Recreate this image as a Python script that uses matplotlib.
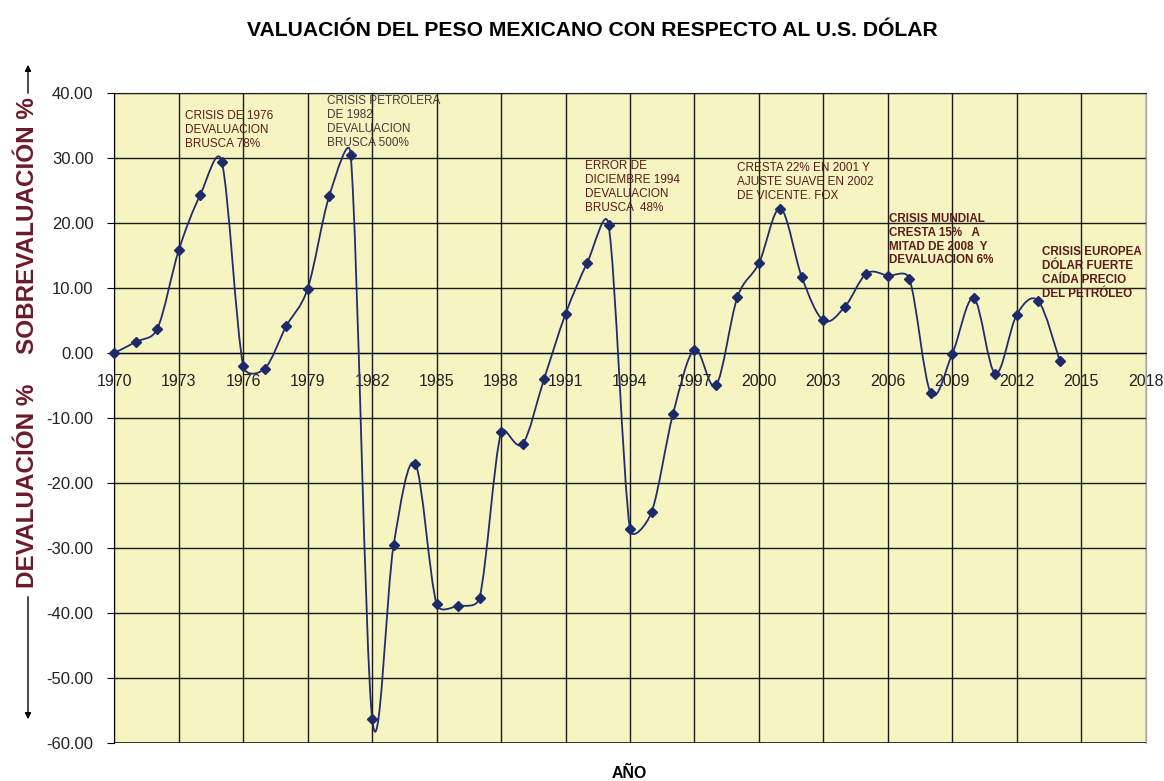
import numpy as np
import matplotlib.pyplot as plt
from matplotlib.path import Path
from matplotlib.patches import PathPatch

plt.rcParams['font.family'] = ['Liberation Sans', 'DejaVu Sans']

# Valores (porcentaje de sobre/devaluacion por año)
anios = np.arange(1970, 2015)
valuacion = np.array([0.0, 1.7, 3.7, 15.8, 24.3, 29.4, -2.0, -2.4, 4.1, 9.9,
                      24.1, 30.5, -56.2, -29.5, -17.0, -38.6, -38.9, -37.6, -12.2, -14.0,
                      -4.0, 6.0, 13.8, 19.7, -27.1, -24.5, -9.4, 0.5, -5.0, 8.6,
                      13.8, 22.2, 11.6, 5.0, 7.1, 12.2, 11.9, 11.4, -6.2, -0.1,
                      8.4, -3.2, 5.9, 8.0, -1.2])

ticks_x = np.arange(1970, 2019, 3)
ticks_y = np.arange(-60, 41, 10)

fig = plt.figure(figsize=(11.64, 7.81), dpi=100)
ax = fig.add_axes([0.0982, 0.0483, 0.9843 - 0.0982, 0.8813 - 0.0483])
ax.set_facecolor('#F6F5C2')

ax.set_xlim(1970, 2018)
ax.set_ylim(-60, 40)
ax.set_xticks(ticks_x)
ax.set_yticks(ticks_y)
ax.yaxis.set_major_formatter(plt.FormatStrFormatter('%.2f'))
ax.grid(True, color='#1a1a1a', lw=1.0)
ax.set_axisbelow(True)

# eje x cruzando en cero
ax.spines['bottom'].set_position(('data', 0))
ax.spines['bottom'].set_color('black')
ax.spines['left'].set_color('black')
ax.spines['top'].set_color('#1a1a1a')
ax.spines['right'].set_color('#a0a0a0')
ax.axhline(-60, color='#1a1a1a', lw=1.2)
ax.tick_params(axis='x', length=0, pad=15, labelsize=11.5, labelcolor='#222222')
ax.tick_params(axis='y', length=5, pad=10, labelsize=12, labelcolor='#222222')

# linea suavizada tipo Excel (bezier en pixeles, tension 1/6 limitada)
pix = ax.transData.transform(np.column_stack([anios, valuacion]))
ext = np.vstack([pix[0], pix, pix[-1]])
verts = [pix[0]]
codes = [Path.MOVETO]
for i in range(len(pix) - 1):
    p0, p1, p2, p3 = ext[i], ext[i + 1], ext[i + 2], ext[i + 3]
    d12 = np.hypot(*(p2 - p1))
    d02 = np.hypot(*(p2 - p0))
    d13 = np.hypot(*(p3 - p1))
    f1 = 1 / 6 if d02 / 6 < d12 / 2 else d12 / d02 / 2
    f2 = 1 / 6 if d13 / 6 < d12 / 2 else d12 / d13 / 2
    verts += [p1 + (p2 - p0) * f1, p2 - (p3 - p1) * f2, p2]
    codes += [Path.CURVE4] * 3
verts = ax.transData.inverted().transform(np.array(verts))
ax.add_patch(PathPatch(Path(verts, codes), fill=False, edgecolor='#1f2d6e', lw=1.3, zorder=3))
ax.plot(anios, valuacion, ls='None', marker='D', ms=5, color='#1c2a6a', zorder=4, clip_on=False)

# notas
rojo = '#5c1a1a'
ax.text(1973.3, 37.3, 'CRISIS DE 1976\nDEVALUACION\nBRUSCA 78%', fontsize=8.5, color=rojo, va='top', linespacing=1.2)
ax.text(1979.9, 39.6, 'CRISIS PETROLERA\nDE 1982\nDEVALUACION\nBRUSCA 500%', fontsize=8.5, color='#4d3535', va='top', linespacing=1.2)
ax.text(1991.9, 29.6, 'ERROR DE\nDICIEMBRE 1994\nDEVALUACION\nBRUSCA  48%', fontsize=8.5, color=rojo, va='top', linespacing=1.2)
ax.text(1999.0, 29.3, 'CRESTA 22% EN 2001 Y\nAJUSTE SUAVE EN 2002\nDE VICENTE. FOX', fontsize=8.5, color=rojo, va='top', linespacing=1.2)
ax.text(2006.07, 21.5, 'CRISIS MUNDIAL\nCRESTA 15%   A\nMITAD DE 2008  Y\nDEVALUACION 6%', fontsize=8.4, color=rojo, va='top', fontweight='bold', linespacing=1.2)
ax.text(2013.15, 16.4, 'CRISIS EUROPEA\nDÓLAR FUERTE\nCAÍDA PRECIO\nDEL PETRÓLEO', fontsize=8.4, color=rojo, va='top', fontweight='bold', linespacing=1.2)

# titulos
fig.text(592 / 1164, 1 - 30 / 781, 'VALUACIÓN DEL PESO MEXICANO CON RESPECTO AL U.S. DÓLAR', ha='center', va='center', fontsize=15.2, fontweight='bold')
fig.text(629 / 1164, 1 - 773 / 781, 'AÑO', ha='center', va='center', fontsize=11.4, fontweight='bold')

granate = '#6b1a2a'
fig.text(28 / 1164, 1 - 226 / 781, 'SOBREVALUACIÓN %', rotation=90, ha='center', va='center', fontsize=17.5, fontweight='bold', color=granate)
fig.text(28 / 1164, 1 - 486 / 781, 'DEVALUACIÓN %', rotation=90, ha='center', va='center', fontsize=17.5, fontweight='bold', color=granate)
ax.annotate('', xy=(28 / 1164, 1 - 62 / 781), xytext=(28 / 1164, 1 - 96 / 781), xycoords='figure fraction',
            arrowprops=dict(arrowstyle='-|>', color='black', lw=1, mutation_scale=9), annotation_clip=False)
ax.annotate('', xy=(28 / 1164, 1 - 722 / 781), xytext=(28 / 1164, 1 - 594 / 781), xycoords='figure fraction',
            arrowprops=dict(arrowstyle='-|>', color='black', lw=1, mutation_scale=9), annotation_clip=False)

fig.savefig('out.png', dpi=100)
